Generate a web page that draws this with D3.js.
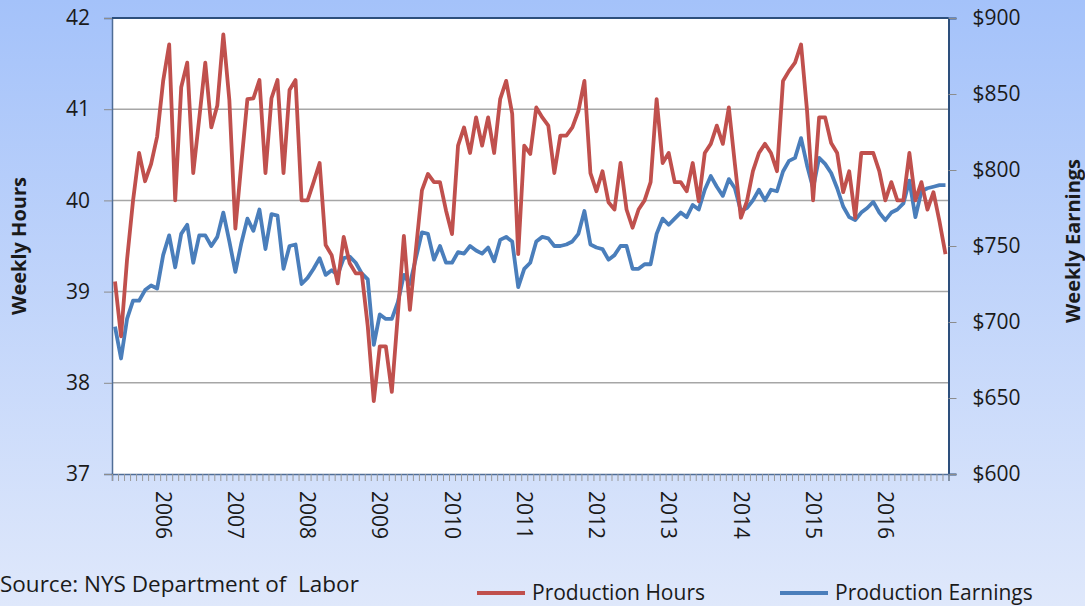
<!DOCTYPE html>
<html>
<head>
<meta charset="utf-8">
<script src="https://cdn.jsdelivr.net/npm/d3@7"></script>
<style>
  html, body { margin: 0; padding: 0; }
  body { width: 1085px; height: 606px; overflow: hidden; }
  text { font-family: "Open Sans", Lato, sans-serif; fill: #1a1a1a; }
</style>
</head>
<body>
<div id="chart"></div>
<script>
// first month of the series, monthly data
var startMonth = new Date(2005, 4, 1)

var hours = [
  39.11, 38.51, 39.35, 40.0, 40.52, 40.21, 40.4, 40.7, 41.31, 41.71,
  40.0, 41.24, 41.51, 40.3, 40.9, 41.51, 40.8, 41.04, 41.82, 41.1,
  39.69, 40.41, 41.11, 41.12, 41.32, 40.3, 41.12, 41.32, 40.3, 41.21,
  41.32, 40.0, 40.0, 40.2, 40.41, 39.51, 39.4, 39.09, 39.6, 39.31,
  39.2, 39.2, 38.62, 37.8, 38.4, 38.4, 37.9, 38.75, 39.61, 38.8,
  39.46, 40.11, 40.29, 40.2, 40.2, 39.89, 39.63, 40.6, 40.8, 40.52,
  40.91, 40.6, 40.91, 40.52, 41.11, 41.31, 40.95, 39.41, 40.6, 40.51,
  41.02, 40.91, 40.82, 40.3, 40.71, 40.71, 40.8, 40.98, 41.31, 40.3,
  40.1, 40.32, 39.98, 39.9, 40.41, 39.9, 39.7, 39.9, 40.0, 40.2,
  41.11, 40.41, 40.52, 40.2, 40.2, 40.1, 40.41, 39.99, 40.52, 40.62,
  40.82, 40.62, 41.02, 40.4, 39.81, 39.99, 40.32, 40.52, 40.62, 40.52,
  40.32, 41.31, 41.42, 41.51, 41.71, 40.98, 40.0, 40.91, 40.91, 40.63,
  40.52, 40.09, 40.32, 39.81, 40.52, 40.52, 40.52, 40.32, 40.0, 40.2,
  40.0, 40.0, 40.52, 40.0, 40.2, 39.9, 40.09, 39.77, 39.41
]

var earnings = [
  697, 676, 702, 714, 714, 721, 724, 722, 744, 757,
  736, 758, 764, 739, 757, 757, 750, 756, 772, 753,
  733, 752, 768, 760, 774, 748, 771, 770, 735, 750,
  751, 725, 729, 735, 742, 731, 734, 731, 742, 743,
  739, 732, 728, 685, 705, 702, 702, 713, 731, 725,
  742, 759, 758, 741, 750, 739, 739, 746, 745, 750,
  747, 745, 749, 740, 754, 756, 753, 723, 735, 739,
  753, 756, 755, 750, 750, 751, 753, 758, 773, 751,
  749, 748, 741, 744, 750, 750, 735, 735, 738, 738,
  758, 768, 764, 768, 772, 769, 777, 774, 787, 796,
  789, 783, 794, 788, 773, 775, 780, 787, 780, 787,
  786, 799, 806, 808, 821, 803, 788, 808, 804, 798,
  788, 776, 769, 767, 772, 775, 779, 772, 767, 772,
  774, 778, 793, 769, 786, 788, 789, 790, 790
]

var hourTicks = [37, 38, 39, 40, 41, 42]
var earnTicks = [600, 650, 700, 750, 800, 850, 900]
var yearLabels = ["2006", "2007", "2008", "2009", "2010", "2011", "2012", "2013", "2014", "2015", "2016"]

var months = d3.timeMonth.range(startMonth, d3.timeMonth.offset(startMonth, hours.length))

var W = 1085, H = 606
var plot = { left: 112, right: 948.5, top: 18, bottom: 474 }

var svg = d3.select("#chart").append("svg")
  .attr("width", W)
  .attr("height", H)

// background gradient
var defs = svg.append("defs")
var grad = defs.append("linearGradient")
  .attr("id", "bg")
  .attr("x1", 0).attr("y1", 0).attr("x2", 0).attr("y2", 1)
grad.append("stop").attr("offset", "0%").attr("stop-color", "#a4c2fa")
grad.append("stop").attr("offset", "100%").attr("stop-color", "#dfe8fb")

svg.append("rect")
  .attr("width", W)
  .attr("height", H)
  .attr("fill", "url(#bg)")

var x = d3.scaleBand()
  .domain(months)
  .range([plot.left, plot.right])
  .paddingInner(0)
  .paddingOuter(0)

var xEdge = d3.scaleLinear()
  .domain([0, months.length])
  .range([plot.left, plot.right])

var yH = d3.scaleLinear()
  .domain([37, 42])
  .range([plot.bottom, plot.top])

var yE = d3.scaleLinear()
  .domain([600, 900])
  .range([plot.bottom, plot.top])

// plot area
svg.append("rect")
  .attr("x", plot.left)
  .attr("y", plot.top)
  .attr("width", plot.right - plot.left)
  .attr("height", plot.bottom - plot.top)
  .attr("fill", "#ffffff")

// gridlines
svg.append("g")
  .selectAll("line")
  .data(hourTicks.slice(1, -1))
  .enter()
  .append("line")
  .attr("x1", plot.left)
  .attr("x2", plot.right)
  .attr("y1", function(d) { return yH(d); })
  .attr("y2", function(d) { return yH(d); })
  .attr("stroke", "#a6a6a6")
  .attr("stroke-width", 1.5)

// left axis
var leftAxis = svg.append("g")
  .attr("transform", "translate(" + plot.left + ",0)")
  .call(d3.axisLeft(yH).tickValues(hourTicks).tickSize(8).tickPadding(14).tickFormat(d3.format("d")))
leftAxis.select(".domain").attr("stroke", "#4f6d96").attr("stroke-width", 1.5)
leftAxis.selectAll(".tick line").attr("stroke", "#8c8c8c")
leftAxis.selectAll(".tick text").style("font-size", "21px").attr("fill", "#1a1a1a")

// right axis
var rightAxis = svg.append("g")
  .attr("transform", "translate(" + plot.right + ",0)")
  .call(d3.axisRight(yE).tickValues(earnTicks).tickSize(8).tickPadding(16).tickFormat(function(d) { return "$" + d; }))
rightAxis.select(".domain").attr("stroke", "#2d4f7c").attr("stroke-width", 2)
rightAxis.selectAll(".tick line").attr("stroke", "#8c8c8c")
rightAxis.selectAll(".tick text").style("font-size", "21px").attr("fill", "#1a1a1a")

// top border
svg.append("line")
  .attr("x1", plot.left)
  .attr("x2", plot.right)
  .attr("y1", plot.top)
  .attr("y2", plot.top)
  .attr("stroke", "#2d4f7c")
  .attr("stroke-width", 2)

// bottom axis: month tick marks between categories
var bottomTicks = svg.append("g")
  .attr("transform", "translate(0," + plot.bottom + ")")
  .call(d3.axisBottom(xEdge).tickValues(d3.range(0, months.length + 1)).tickSize(7).tickFormat(""))
bottomTicks.select(".domain").attr("stroke", "#4f6d96").attr("stroke-width", 1.5)
bottomTicks.selectAll(".tick line").attr("stroke", "#9a9a9a")

// year labels on the January of each year
var jan = months.filter(function(d) { return d.getMonth() === 0; })
var bottomLabels = svg.append("g")
  .attr("transform", "translate(0," + plot.bottom + ")")
  .call(d3.axisBottom(x).tickValues(jan).tickSize(0)
    .tickFormat(function(d) { return yearLabels[yearLabels.indexOf(String(d.getFullYear()))]; }))
bottomLabels.select(".domain").remove()
bottomLabels.selectAll(".tick text")
  .attr("transform", "rotate(90)")
  .attr("x", 17)
  .attr("y", 0)
  .attr("dy", "0.35em")
  .style("text-anchor", "start")
  .style("font-size", "21px")
  .attr("fill", "#1a1a1a")

// lines
var lineH = d3.line()
  .x(function(d, i) { return x(months[i]) + x.bandwidth() / 2; })
  .y(function(d) { return yH(d); })

var lineE = d3.line()
  .x(function(d, i) { return x(months[i]) + x.bandwidth() / 2; })
  .y(function(d) { return yE(d); })

svg.append("path")
  .datum(earnings)
  .attr("d", lineE)
  .attr("fill", "none")
  .attr("stroke", "#4a7ebb")
  .attr("stroke-width", 3.8)
  .attr("stroke-linejoin", "round")

svg.append("path")
  .datum(hours)
  .attr("d", lineH)
  .attr("fill", "none")
  .attr("stroke", "#c0504d")
  .attr("stroke-width", 3.8)
  .attr("stroke-linejoin", "round")

// axis titles
svg.append("text")
  .attr("transform", "translate(26,246) rotate(-90)")
  .attr("text-anchor", "middle")
  .style("font-size", "20px")
  .style("font-weight", "bold")
  .attr("fill", "#000")
  .text("Weekly Hours")

svg.append("text")
  .attr("transform", "translate(1080,241) rotate(-90)")
  .attr("text-anchor", "middle")
  .style("font-size", "20px")
  .style("font-weight", "bold")
  .attr("fill", "#000")
  .text("Weekly Earnings")

// source
svg.append("text")
  .attr("x", 0)
  .attr("y", 592)
  .style("font-size", "22.5px")
  .style("white-space", "pre")
  .attr("fill", "#000")
  .text("Source: NYS Department of \u00a0Labor")

// legend
var legend = [
  { name: "Production Hours", color: "#c0504d", x: 477 },
  { name: "Production Earnings", color: "#4a7ebb", x: 780 }
]
var lg = svg.selectAll(".legend")
  .data(legend)
  .enter()
  .append("g")
  .attr("class", "legend")
  .attr("transform", function(d) { return "translate(" + d.x + ",593)"; })
lg.append("line")
  .attr("x1", 0).attr("x2", 48)
  .attr("stroke", function(d) { return d.color; })
  .attr("stroke-width", 3.8)
lg.append("text")
  .attr("x", 55)
  .attr("y", 7)
  .style("font-size", "21px")
  .attr("fill", "#000")
  .text(function(d) { return d.name; })
</script>
</body>
</html>
